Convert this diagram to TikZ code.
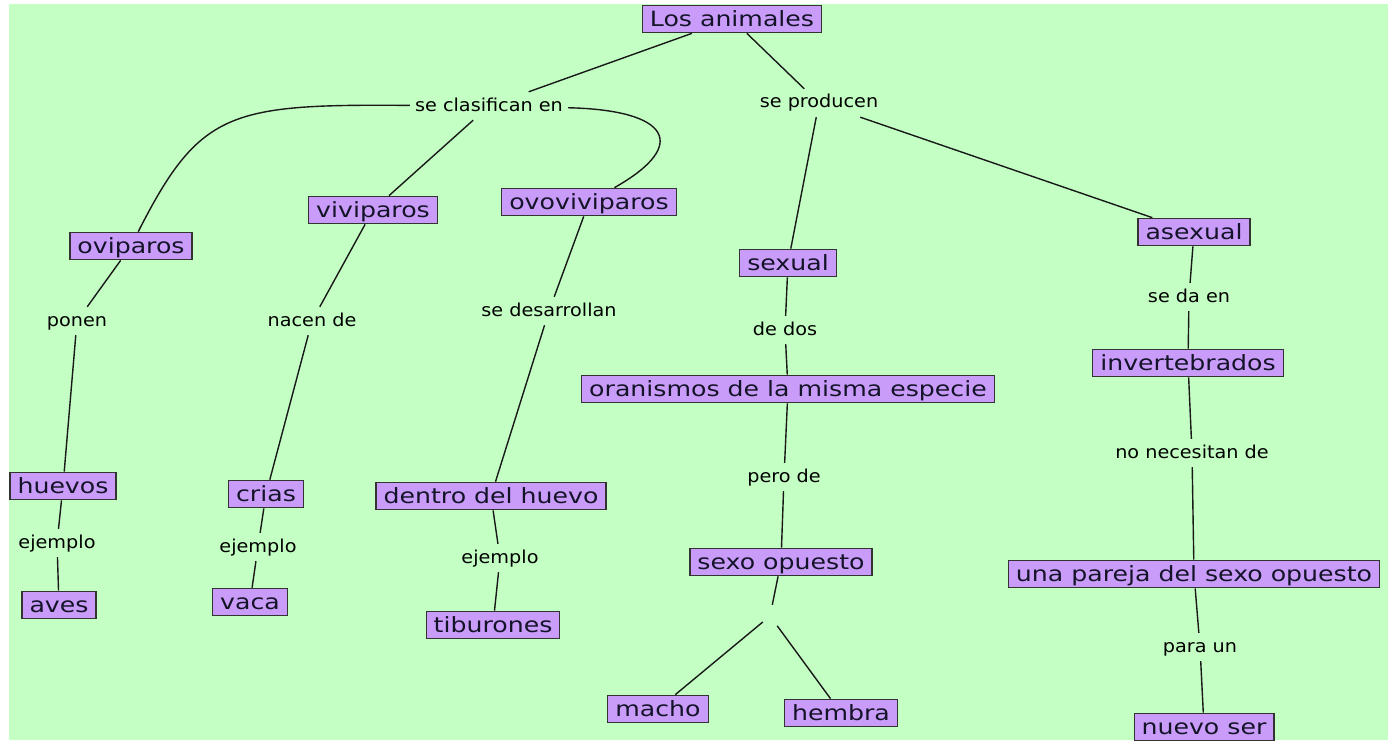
\documentclass[tikz,border=0pt]{standalone}
\usepackage{fontspec}
\newfontfamily\cfont[FakeStretch=1.2]{DejaVu Sans}
\newfontfamily\lfont[FakeStretch=1.08]{DejaVu Sans}
\definecolor{bggreen}{HTML}{C4FFC4}
\definecolor{cfill}{HTML}{CA9CFA}
\definecolor{cborder}{HTML}{333333}
\definecolor{ctext}{HTML}{141428}
\begin{document}
\begin{tikzpicture}[x=1pt,y=-1pt,
  concept/.style={draw=cborder, fill=cfill, line width=1.2pt, text=ctext,
    font=\cfont\fontsize{21pt}{25pt}\selectfont, inner xsep=7.5pt, inner ysep=6pt,
    text height=15.5pt, text depth=0pt},
  link/.style={font=\lfont\fontsize{17.8pt}{21pt}\selectfont, text=black,
    inner xsep=5pt, inner ysep=6pt, text height=13pt, text depth=3pt},
  conn/.style={draw=black!90, line width=1.4pt}]
\useasboundingbox (0,0) rectangle (1388,741);
\fill[bggreen] (9,4) rectangle (1388,740);

% concepts
\node[concept] (animales) at (732,19) {Los animales};
\node[concept] (ovip) at (131,246) {oviparos};
\node[concept] (vivi) at (373,210) {viviparos};
\node[concept] (ovo) at (589,202) {ovoviviparos};
\node[concept] (sexual) at (788,263) {sexual};
\node[concept] (asexual) at (1194,232) {asexual};
\node[concept] (huevos) at (63,486) {huevos};
\node[concept] (crias) at (266,494) {crias};
\node[concept] (dentro) at (491,496) {dentro del huevo};
\node[concept] (oran) at (788,389) {oranismos de la misma especie};
\node[concept] (invert) at (1188,363) {invertebrados};
\node[concept] (sexo) at (781,562) {sexo opuesto};
\node[concept] (pareja) at (1194,574) {una pareja del sexo opuesto};
\node[concept] (aves) at (59,605) {aves};
\node[concept] (vaca) at (250,602) {vaca};
\node[concept] (tib) at (493,625) {tiburones};
\node[concept] (macho) at (658,709) {macho};
\node[concept] (hembra) at (841,713) {hembra};
\node[concept] (nuevo) at (1204,727) {nuevo ser};

% linking phrases
\node[link] (secl) at (489,106) {se clasifican en};
\node[link] (sepro) at (819,103) {se producen};
\node[link] (ponen) at (77,321) {ponen};
\node[link] (nacen) at (312,321) {nacen de};
\node[link] (sedes) at (549,311) {se desarrollan};
\node[link] (dedos) at (785,330) {de dos};
\node[link] (seda) at (1189,297) {se da en};
\node[link] (perode) at (784,477) {pero de};
\node[link] (nonec) at (1192,453) {no necesitan de};
\node[link] (ej1) at (57,543) {ejemplo};
\node[link] (ej2) at (258,547) {ejemplo};
\node[link] (ej3) at (500,558) {ejemplo};
\node[link] (paraun) at (1200,647) {para un};
\node[inner sep=0pt, minimum width=14pt, minimum height=22pt] (vac) at (770,616) {};

% connectors
\draw[conn] (animales) -- (secl);
\draw[conn] (animales) -- (sepro);
\draw[conn] (secl) .. controls (230,104) and (200,110) .. (ovip);
\draw[conn] (secl) -- (vivi);
\draw[conn] (secl) .. controls (670,110) and (690,145) .. (ovo);
\draw[conn] (sepro) -- (sexual);
\draw[conn] (sepro) -- (asexual);
\draw[conn] (ovip) -- (ponen);
\draw[conn] (ponen) -- (huevos);
\draw[conn] (vivi) -- (nacen);
\draw[conn] (nacen) -- (crias);
\draw[conn] (ovo) -- (sedes);
\draw[conn] (sedes) -- (dentro);
\draw[conn] (sexual) -- (dedos);
\draw[conn] (dedos) -- (oran);
\draw[conn] (oran) -- (perode);
\draw[conn] (perode) -- (sexo);
\draw[conn] (sexo) -- (vac);
\draw[conn] (vac) -- (macho);
\draw[conn] (vac) -- (hembra);
\draw[conn] (asexual) -- (seda);
\draw[conn] (seda) -- (invert);
\draw[conn] (invert) -- (nonec);
\draw[conn] (nonec) -- (pareja);
\draw[conn] (pareja) -- (paraun);
\draw[conn] (paraun) -- (nuevo);
\draw[conn] (huevos) -- (ej1);
\draw[conn] (ej1) -- (aves);
\draw[conn] (crias) -- (ej2);
\draw[conn] (ej2) -- (vaca);
\draw[conn] (dentro) -- (ej3);
\draw[conn] (ej3) -- (tib);
\end{tikzpicture}
\end{document}
